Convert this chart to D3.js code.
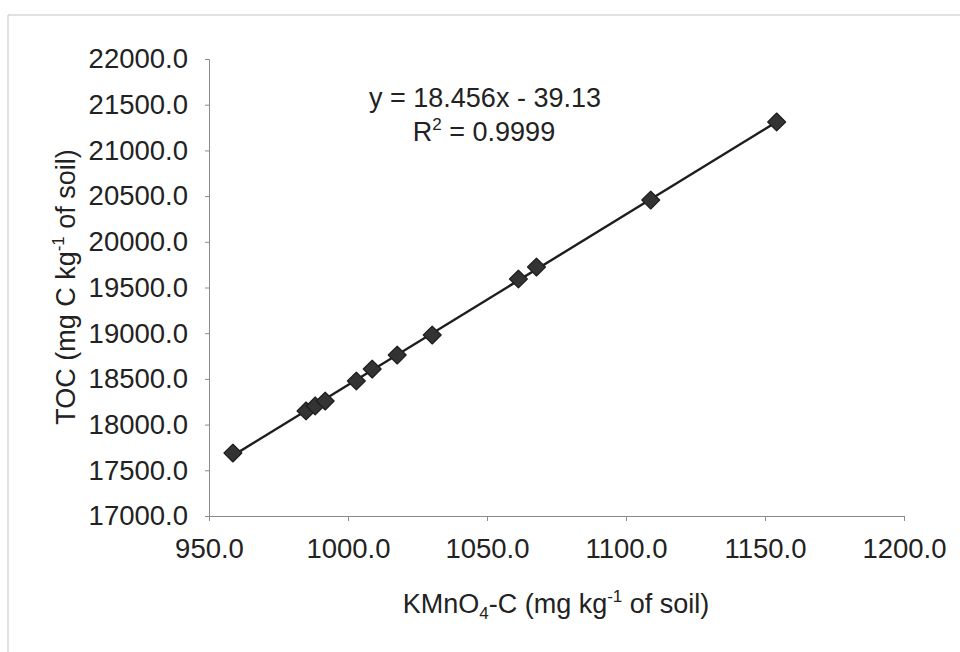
<!DOCTYPE html>
<html>
<head>
<meta charset="utf-8">
<script src="https://cdn.jsdelivr.net/npm/d3@7"></script>
<style>
  body { margin: 0; background: #fff; }
  svg text { font-family: "Liberation Sans", Arial, sans-serif; fill: #222; }
</style>
</head>
<body>
<svg id="chart" width="960" height="652"></svg>
<script>
// values
let kmno4 = [958.6, 984.9, 988.2, 991.8, 1003.0, 1008.7, 1017.7, 1030.3, 1061.3, 1067.8, 1108.9, 1154.2];
let toc   = [17689, 18149, 18204, 18258, 18477, 18608, 18761, 18980, 19593, 19724, 20457, 21311];
let xTicks = [950, 1000, 1050, 1100, 1150, 1200];
let yTicks = [17000, 17500, 18000, 18500, 19000, 19500, 20000, 20500, 21000, 21500, 22000];
let eqText = 'y = 18.456x - 39.13';
let r2Text = ' = 0.9999';

let svg = d3.select('#chart');

// scanned page frame
svg.append('line').attr('x1', 8).attr('x2', 960).attr('y1', 15).attr('y2', 15).attr('stroke', '#c4c4c4');
svg.append('line').attr('x1', 8).attr('x2', 8).attr('y1', 15).attr('y2', 652).attr('stroke', '#c4c4c4');

let margin = { top: 59, right: 56, bottom: 136, left: 209 };
let width = 960 - margin.left - margin.right;
let height = 652 - margin.top - margin.bottom;

let g = svg.append('g').attr('transform', `translate(${margin.left},${margin.top})`);

let x = d3.scaleLinear().domain([950, 1200]).range([0, width]);
let y = d3.scaleLinear().domain([17000, 22000]).range([height, 0]);

let xAxis = g.append('g')
  .attr('transform', `translate(0,${height})`)
  .call(d3.axisBottom(x).tickValues(xTicks).tickFormat(d3.format('.1f')).tickSize(5).tickPadding(20));
let yAxis = g.append('g')
  .call(d3.axisLeft(y).tickValues(yTicks).tickFormat(d3.format('.1f')).tickSize(4).tickPadding(17));

[xAxis, yAxis].forEach(a => {
  a.selectAll('path, line').attr('stroke', '#8a8a8a');
  a.selectAll('text').style('font-size', '27.5px').attr('fill', '#222');
});
xAxis.selectAll('text').attr('dy', '0.6em');

// linear trendline through the points
let pts = kmno4.map((d, i) => ({ x: d, y: toc[i] }));
let mx = d3.mean(pts, d => d.x), my = d3.mean(pts, d => d.y);
let slope = d3.sum(pts, d => (d.x - mx) * (d.y - my)) / d3.sum(pts, d => (d.x - mx) * (d.x - mx));
let icpt = my - slope * mx;
let x0 = d3.min(kmno4), x1 = d3.max(kmno4);

g.append('line')
  .attr('x1', x(x0)).attr('y1', y(slope * x0 + icpt))
  .attr('x2', x(x1)).attr('y2', y(slope * x1 + icpt))
  .attr('stroke', '#1e1e1e').attr('stroke-width', 2.4);

g.selectAll('path.pt')
  .data(pts)
  .enter()
  .append('path')
  .attr('class', 'pt')
  .attr('d', d3.symbol().type(d3.symbolSquare).size(160))
  .attr('transform', d => `translate(${x(d.x)},${y(d.y)}) rotate(45)`)
  .attr('fill', '#333')
  .attr('stroke', '#1e1e1e')
  .attr('stroke-width', 1.2)
  .attr('stroke-linejoin', 'round');

// equation labels
svg.append('text')
  .attr('x', 485).attr('y', 107)
  .attr('text-anchor', 'middle')
  .style('font-size', '27px')
  .text(eqText);

let r2 = svg.append('text')
  .attr('x', 484).attr('y', 141)
  .attr('text-anchor', 'middle')
  .style('font-size', '27px');
r2.append('tspan').text('R');
r2.append('tspan').attr('dy', -11).style('font-size', '17px').text('2');
r2.append('tspan').attr('dy', 11).text(r2Text);

// axis titles
let xt = svg.append('text')
  .attr('x', 556).attr('y', 613)
  .attr('text-anchor', 'middle')
  .style('font-size', '27px');
xt.append('tspan').text('KMnO');
xt.append('tspan').attr('dy', 6).style('font-size', '17px').text('4');
xt.append('tspan').attr('dy', -6).text('-C (mg kg');
xt.append('tspan').attr('dy', -11).style('font-size', '17px').text('-1');
xt.append('tspan').attr('dy', 11).text(' of soil)');

let yt = svg.append('text')
  .attr('transform', 'translate(75,287) rotate(-90)')
  .attr('text-anchor', 'middle')
  .style('font-size', '27px');
yt.append('tspan').text('TOC (mg C kg');
yt.append('tspan').attr('dy', -11).style('font-size', '17px').text('-1');
yt.append('tspan').attr('dy', 11).text(' of soil)');
</script>
</body>
</html>
